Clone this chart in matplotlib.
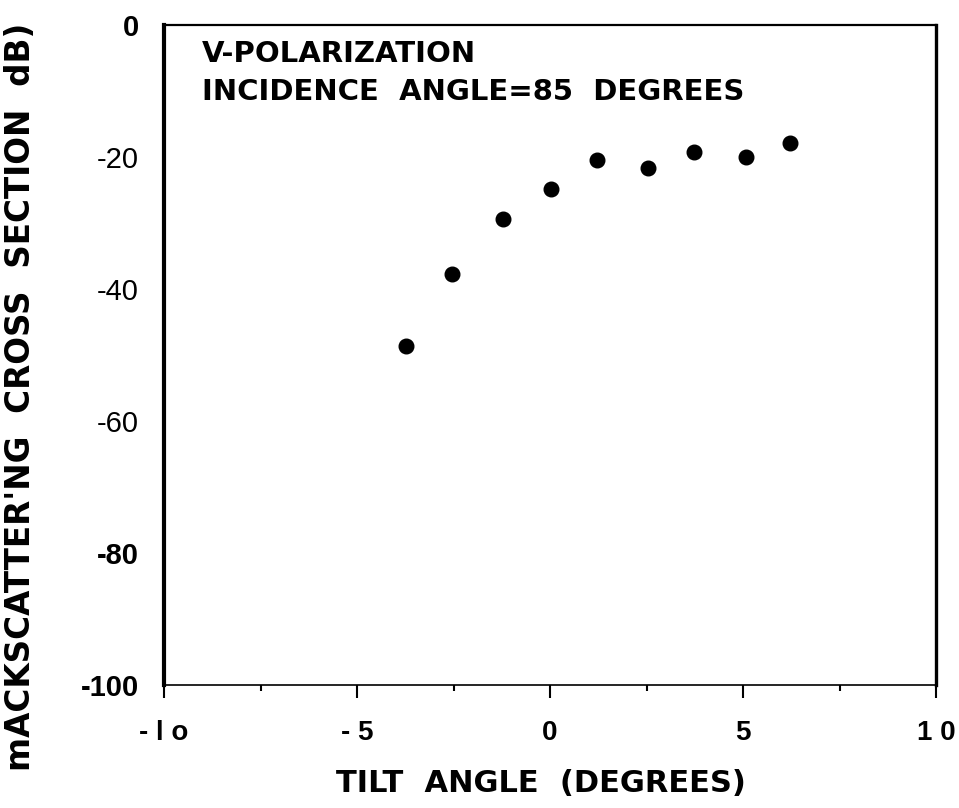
import matplotlib
matplotlib.use("Agg")
import matplotlib.pyplot as plt

# ---- data ----
tilt_deg = [-3.73, -2.55, -1.23, 0.03, 1.21, 2.53, 3.73, 5.07, 6.22]
sigma_db = [-48.6, -37.8, -29.4, -24.8, -20.5, -21.7, -19.2, -20.0, -17.9]

x_major = [-10, -5, 0, 5, 10]
x_major_labels = ["- l o", "- 5", "0", "5", "1 0"]
x_minor = [-7.5, -2.5, 2.5, 7.5]

y_ticks = [0, -20, -40, -60, -80, -100]
y_tick_labels = ["0", "-20", "-40", "-60", "-80", "-100"]
y_tick_bold = [True, False, False, False, True, True]

title_lines = ["V-POLARIZATION", "INCIDENCE  ANGLE=85  DEGREES"]
x_label = "TILT  ANGLE  (DEGREES)"
y_label = "mACKSCATTER'NG  CROSS  SECTION  dB)"

W, H = 959, 808
fig = plt.figure(figsize=(W / 100, H / 100), dpi=100)
ax = fig.add_axes([164 / W, 123 / H, 772 / W, 660 / H])

ax.plot(tilt_deg, sigma_db, linestyle="none", marker="o",
        markersize=10.5, color="black")

ax.set_xlim(-10, 10)
ax.set_ylim(-100, 0)

# spines
ax.spines["left"].set_linewidth(3.0)
ax.spines["right"].set_linewidth(2.4)
ax.spines["top"].set_linewidth(1.6)
ax.spines["bottom"].set_linewidth(1.2)

# x ticks
ax.set_xticks(x_major)
ax.set_xticklabels(x_major_labels, fontfamily="Liberation Sans",
                   fontweight="bold", fontsize=20)
ax.set_xticks(x_minor, minor=True)
ax.tick_params(axis="x", which="major", direction="out", length=9,
               width=1.5, pad=16)
ax.tick_params(axis="x", which="minor", direction="out", length=4,
               width=1.5)

# y ticks (no tick marks)
ax.set_yticks(y_ticks)
ax.set_yticklabels(y_tick_labels, fontfamily="Liberation Sans", fontsize=21)
for lab, b in zip(ax.get_yticklabels(), y_tick_bold):
    lab.set_fontweight("bold" if b else "normal")
ax.tick_params(axis="y", which="both", length=0, pad=18)

# title inside the plot
fig.text(202 / W, 1 - 62 / H, title_lines[0], fontfamily="DejaVu Sans",
         fontweight="bold", fontsize=21, ha="left", va="baseline")
fig.text(202 / W, 1 - 100 / H, title_lines[1], fontfamily="DejaVu Sans",
         fontweight="bold", fontsize=21, ha="left", va="baseline")

# axis labels
fig.text(541 / W, 1 - 784 / H, x_label, fontfamily="DejaVu Sans",
         fontweight="bold", fontsize=22, ha="center", va="center")
fig.text(21 / W, 1 - 397 / H, y_label, fontfamily="DejaVu Sans",
         fontweight="bold", fontsize=23.5, ha="center", va="center",
         rotation=90)

fig.savefig("out.png", dpi=100)
